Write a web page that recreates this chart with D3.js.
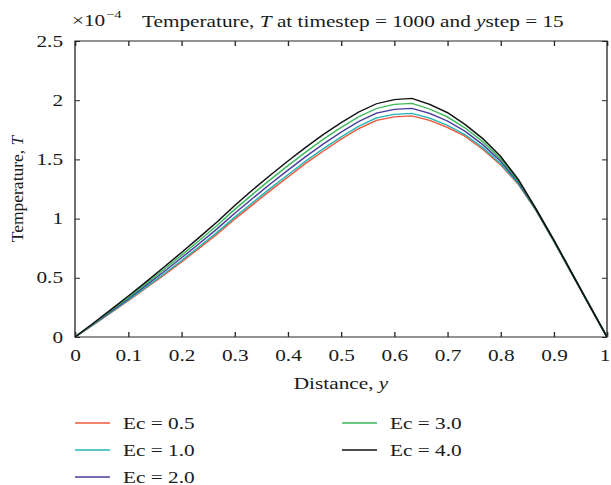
<!DOCTYPE html>
<html lang="en">
<head>
<meta charset="UTF-8">
<title>Temperature profile</title>
<script src="https://d3js.org/d3.v7.min.js"></script>
<style>
    body { margin: 0; background: #fff; }
    svg text { font-family: "Liberation Serif", "Times New Roman", serif; fill: #1a1a1a; }
    .tick line { stroke: #262626; }
    .curve { fill: none; stroke-width: 1.3px; }
</style>
</head>
<body>
<div id="chart"></div>
<script>
// distance y and temperature T (x 1e-4) for each Eckert number
var distance = [0, 0.0333, 0.0667, 0.1, 0.1333, 0.1667, 0.2, 0.2333, 0.2667, 0.3, 0.3333,
    0.3667, 0.4, 0.4333, 0.4667, 0.5, 0.5333, 0.5667, 0.6, 0.6333, 0.6667,
    0.7, 0.7333, 0.7667, 0.8, 0.8333, 0.8667, 0.9, 0.9333, 0.9667, 1];

var ec05 = [0, 0.1, 0.203, 0.307, 0.413, 0.522, 0.634, 0.75, 0.868, 0.995, 1.115,
    1.235, 1.35, 1.465, 1.57, 1.67, 1.76, 1.83, 1.86, 1.867, 1.83,
    1.77, 1.695, 1.585, 1.455, 1.29, 1.07, 0.81, 0.54, 0.27, 0];
var ec10 = [0, 0.102, 0.207, 0.312, 0.42, 0.531, 0.645, 0.763, 0.883, 1.011, 1.133,
    1.254, 1.369, 1.484, 1.59, 1.69, 1.78, 1.85, 1.881, 1.888, 1.849,
    1.788, 1.709, 1.598, 1.465, 1.296, 1.071, 0.811, 0.541, 0.27, 0];
var ec20 = [0, 0.106, 0.214, 0.323, 0.435, 0.55, 0.668, 0.789, 0.912, 1.044, 1.169,
    1.291, 1.408, 1.523, 1.63, 1.73, 1.82, 1.89, 1.922, 1.931, 1.888,
    1.824, 1.738, 1.624, 1.485, 1.307, 1.074, 0.814, 0.542, 0.27, 0];
var ec30 = [0, 0.109, 0.221, 0.334, 0.45, 0.569, 0.69, 0.814, 0.941, 1.077, 1.204,
    1.328, 1.446, 1.561, 1.67, 1.77, 1.86, 1.93, 1.964, 1.973, 1.926,
    1.859, 1.766, 1.649, 1.505, 1.319, 1.077, 0.817, 0.544, 0.27, 0];
var ec40 = [0, 0.113, 0.228, 0.345, 0.465, 0.588, 0.713, 0.84, 0.97, 1.11, 1.24,
    1.365, 1.485, 1.6, 1.71, 1.81, 1.9, 1.97, 2.005, 2.015, 1.965,
    1.895, 1.795, 1.675, 1.525, 1.33, 1.08, 0.82, 0.545, 0.27, 0];

var seriesNames = ["Ec = 0.5", "Ec = 1.0", "Ec = 2.0", "Ec = 3.0", "Ec = 4.0"];
var seriesColors = ["#f0583c", "#1fb5b5", "#4a3d9f", "#3cb85a", "#111111"];
var xTicks = [0, 0.1, 0.2, 0.3, 0.4, 0.5, 0.6, 0.7, 0.8, 0.9, 1];
var yTicks = [0, 0.5, 1, 1.5, 2, 2.5];

var allSeries = [ec05, ec10, ec20, ec30, ec40];

// the figure is stretched sideways, so draw in a narrower frame and scale it
var W = 611, H = 485, sx = 1.33;
var plotL = 75 / sx, plotR = 607 / sx, plotT = 41, plotB = 337;

var svg = d3.select("#chart").append("svg")
    .attr("width", W)
    .attr("height", H);

var g = svg.append("g").attr("transform", "scale(" + sx + ",1)");

var x = d3.scaleLinear().domain([0, 1]).range([plotL, plotR]);
var y = d3.scaleLinear().domain([0, 2.5]).range([plotB, plotT]);

var fmt = d3.format("~g");

var xAxis = g.append("g")
    .attr("transform", "translate(0," + plotB + ")")
    .call(d3.axisBottom(x).tickValues(xTicks).tickFormat(fmt)
        .tickSizeInner(-5).tickSizeOuter(0).tickPadding(12.6))
    .call(a => a.select(".domain").remove());
xAxis.selectAll("text").attr("font-size", 16).attr("fill", "#1a1a1a");
// last label sits right at the image edge
xAxis.selectAll("text").filter(d => d === 1).attr("dx", -2);

g.append("g")
    .attr("transform", "translate(" + plotL + ",0)")
    .call(d3.axisLeft(y).tickValues(yTicks).tickFormat(fmt)
        .tickSizeInner(-5 / sx).tickSizeOuter(0).tickPadding(9))
    .call(a => a.select(".domain").remove())
    .selectAll("text").attr("font-size", 16).attr("fill", "#1a1a1a");

g.append("g")
    .attr("transform", "translate(0," + plotT + ")")
    .call(d3.axisTop(x).tickValues(xTicks).tickFormat("")
        .tickSizeInner(-5).tickSizeOuter(0))
    .call(a => a.select(".domain").remove());

g.append("g")
    .attr("transform", "translate(" + plotR + ",0)")
    .call(d3.axisRight(y).tickValues(yTicks).tickFormat("")
        .tickSizeInner(-5 / sx).tickSizeOuter(0))
    .call(a => a.select(".domain").remove());

g.append("rect")
    .attr("x", plotL).attr("y", plotT)
    .attr("width", plotR - plotL).attr("height", plotB - plotT)
    .attr("fill", "none").attr("stroke", "#262626").attr("stroke-width", 1);

var line = d3.line()
    .x((d, i) => x(distance[i]))
    .y(d => y(d));

g.selectAll(".curve")
    .data(allSeries)
    .enter().append("path")
    .attr("class", "curve")
    .attr("stroke", (d, i) => seriesColors[i])
    .attr("d", line);

// exponent and title
var expo = g.append("text")
    .attr("x", 72 / sx).attr("y", 26)
    .attr("font-size", 16)
    .text("×10");
g.append("text")
    .attr("x", 72 / sx + expo.node().getComputedTextLength() + 0.5)
    .attr("y", 18)
    .attr("font-size", 11)
    .text("−4");

var title = g.append("text")
    .attr("x", 142 / sx).attr("y", 27)
    .attr("font-size", 16);
title.append("tspan").text("Temperature, ");
title.append("tspan").attr("font-style", "italic").text("T");
title.append("tspan").text(" at timestep = 1000 and ");
title.append("tspan").attr("font-style", "italic").text("y");
title.append("tspan").text("step = 15");

// axis labels
var xl = g.append("text")
    .attr("x", (plotL + plotR) / 2).attr("y", 389)
    .attr("text-anchor", "middle")
    .attr("font-size", 16);
xl.append("tspan").text("Distance, ");
xl.append("tspan").attr("font-style", "italic").text("y");

// y label drawn unscaled so the rotated glyphs keep their shape
var yl = svg.append("text")
    .attr("transform", "translate(23," + ((plotT + plotB) / 2) + ") rotate(-90)")
    .attr("text-anchor", "middle")
    .attr("font-size", 17.5);
yl.append("tspan").text("Temperature, ");
yl.append("tspan").attr("font-style", "italic").text("T");

// legend, two columns
var legendCols = [75 / sx, 342 / sx];
var legendRows = [423, 450, 477];
var legend = g.selectAll(".legend")
    .data(seriesNames)
    .enter().append("g")
    .attr("class", "legend")
    .attr("transform", (d, i) => "translate(" + legendCols[i < 3 ? 0 : 1] + "," + legendRows[i < 3 ? i : i - 3] + ")");

legend.append("line")
    .attr("x1", 0).attr("x2", 35 / sx)
    .attr("stroke", (d, i) => seriesColors[i])
    .attr("stroke-width", 1.3);

legend.append("text")
    .attr("x", 48 / sx).attr("dy", "0.35em")
    .attr("font-size", 16)
    .text(d => d);
</script>
</body>
</html>
